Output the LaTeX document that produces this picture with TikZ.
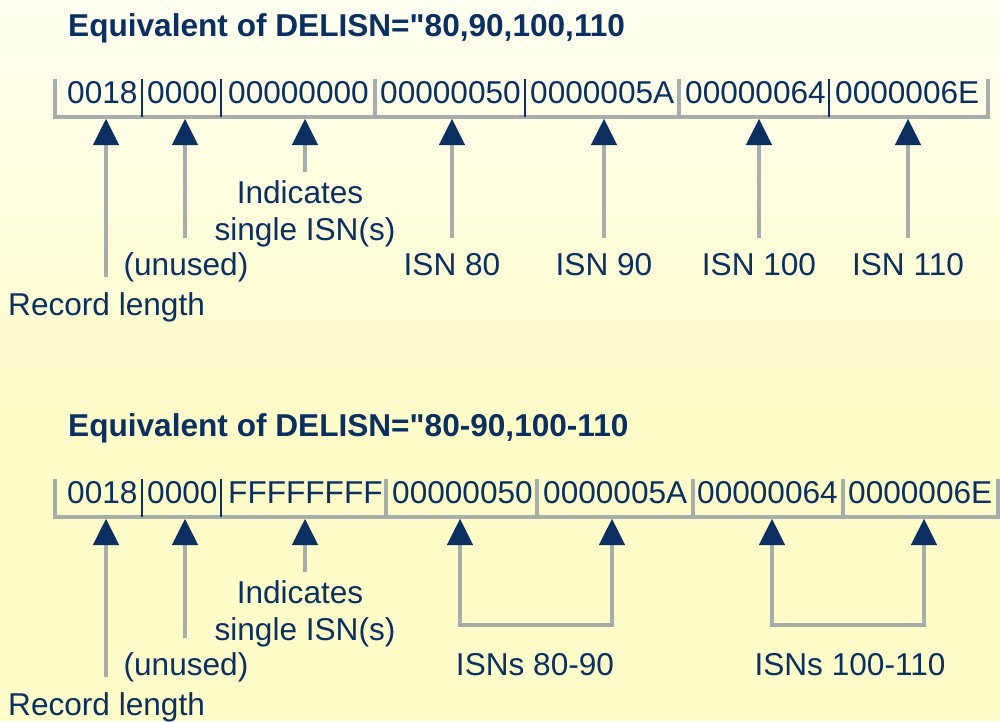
\documentclass[tikz,border=0pt]{standalone}
\usepackage{fontspec}
\setmainfont{Liberation Sans}[Ligatures=TeXOff]
\usetikzlibrary{arrows.meta}
\definecolor{navy}{HTML}{0B2F60}
\definecolor{lgray}{HTML}{A7ADA8}
\definecolor{bgtop}{HTML}{FFFFF2}
\definecolor{bgbot}{HTML}{FEFCC8}
\begin{document}
\begin{tikzpicture}[x=1pt,y=-1pt,
  txt/.style={inner sep=0pt, text=navy, font=\fontsize{31.6}{37}\selectfont},
  head/.style={inner sep=0pt, text=navy, font=\fontsize{31.6}{37}\selectfont\bfseries},
  tipn/.tip={Triangle[width=26pt,length=26pt,color=navy,line width=0.4pt]},
  shaft/.style={draw=lgray, line width=4pt, -tipn},
  bshaft/.style={draw=lgray, line width=4pt, tipn-tipn, line join=miter},
  bracket/.style={draw=lgray, line width=3.5pt, line join=miter},
  nsep/.style={draw=navy, line width=2.2pt},
  gsep/.style={draw=lgray, line width=3.5pt}]
\useasboundingbox (0,0) rectangle (1000,721);
\shade[top color=bgtop, bottom color=bgbot] (0,0) rectangle (1000,420);
\fill[bgbot] (0,419) rectangle (1000,721);

% ===== Upper example =====
\node[head, anchor=base west] (h1) at (68,36) {Equivalent of DELISN="80,90,100,110};
\draw[bracket] (55,79) -- (55,117) -- (988,117) -- (988,79);
\draw[nsep] (142,79) -- (142,117);
\draw[nsep] (221,79) -- (221,117);
\draw[gsep] (375,79) -- (375,117);
\draw[nsep] (525,79) -- (525,117);
\draw[gsep] (679,79) -- (679,117);
\draw[nsep] (829,79) -- (829,117);
\node[txt, anchor=base west] (u1) at (67,103) {0018};
\node[txt, anchor=base west] (u2) at (147,103) {0000};
\node[txt, anchor=base west] (u3) at (228,103) {00000000};
\node[txt, anchor=base west] (u4) at (380,103) {00000050};
\node[txt, anchor=base west] (u5) at (530,103) {0000005A};
\node[txt, anchor=base west] (u6) at (685,103) {00000064};
\node[txt, anchor=base west] (u7) at (835,103) {0000006E};

\coordinate (ua1t) at (106,119); \coordinate (ua1e) at (106,277);
\coordinate (ua2t) at (185,119); \coordinate (ua2e) at (185,238);
\coordinate (ua3t) at (305,119); \coordinate (ua3e) at (305,172);
\coordinate (ua4t) at (452,119); \coordinate (ua4e) at (452,238);
\coordinate (ua5t) at (604,119); \coordinate (ua5e) at (604,238);
\coordinate (ua6t) at (759,119); \coordinate (ua6e) at (759,238);
\coordinate (ua7t) at (908,119); \coordinate (ua7e) at (908,238);
\foreach \i in {1,...,7} {\draw[shaft] (ua\i e) -- (ua\i t);}

\node[txt, anchor=base west] (ul1) at (8,315) {Record length};
\node[txt, anchor=base] (ul2) at (186,275) {(unused)};
\node[txt, anchor=base] (ul3a) at (300,203) {Indicates};
\node[txt, anchor=base] (ul3b) at (305,240) {single ISN(s)};
\node[txt, anchor=base] (ul4) at (452,275) {ISN 80};
\node[txt, anchor=base] (ul5) at (604,275) {ISN 90};
\node[txt, anchor=base] (ul6) at (759,275) {ISN 100};
\node[txt, anchor=base] (ul7) at (908,275) {ISN 110};

% ===== Lower example =====
\node[head, anchor=base west] (h2) at (68,436) {Equivalent of DELISN="80-90,100-110};
\draw[bracket] (55,479) -- (55,517) -- (998,517) -- (998,479);
\draw[nsep] (142,479) -- (142,517);
\draw[nsep] (221,479) -- (221,517);
\draw[gsep] (386,479) -- (386,517);
\draw[gsep] (537,479) -- (537,517);
\draw[gsep] (693,479) -- (693,517);
\draw[gsep] (843,479) -- (843,517);
\node[txt, anchor=base west] (l1) at (67,503) {0018};
\node[txt, anchor=base west] (l2) at (147,503) {0000};
\node[txt, anchor=base west] (l3) at (228,503) {FFFFFFFF};
\node[txt, anchor=base west] (l4) at (392,503) {00000050};
\node[txt, anchor=base west] (l5) at (543,503) {0000005A};
\node[txt, anchor=base west] (l6) at (697,503) {00000064};
\node[txt, anchor=base west] (l7) at (848,503) {0000006E};

\coordinate (la1t) at (106,519); \coordinate (la1e) at (106,677);
\coordinate (la2t) at (185,519); \coordinate (la2e) at (185,638);
\coordinate (la3t) at (305,519); \coordinate (la3e) at (305,572);
\foreach \i in {1,2,3} {\draw[shaft] (la\i e) -- (la\i t);}
\coordinate (lb1a) at (460,519); \coordinate (lb1b) at (612,519);
\coordinate (lb2a) at (772,519); \coordinate (lb2b) at (924,519);
\draw[bshaft] (lb1a) -- (460,625) -- (612,625) -- (lb1b);
\draw[bshaft] (lb2a) -- (772,625) -- (924,625) -- (lb2b);

\node[txt, anchor=base west] (ll1) at (8,715) {Record length};
\node[txt, anchor=base] (ll2) at (186,675) {(unused)};
\node[txt, anchor=base] (ll3a) at (300,603) {Indicates};
\node[txt, anchor=base] (ll3b) at (305,640) {single ISN(s)};
\node[txt, anchor=base] (ll4) at (535,675) {ISNs 80-90};
\node[txt, anchor=base] (ll5) at (850,675) {ISNs 100-110};
\end{tikzpicture}
\end{document}
